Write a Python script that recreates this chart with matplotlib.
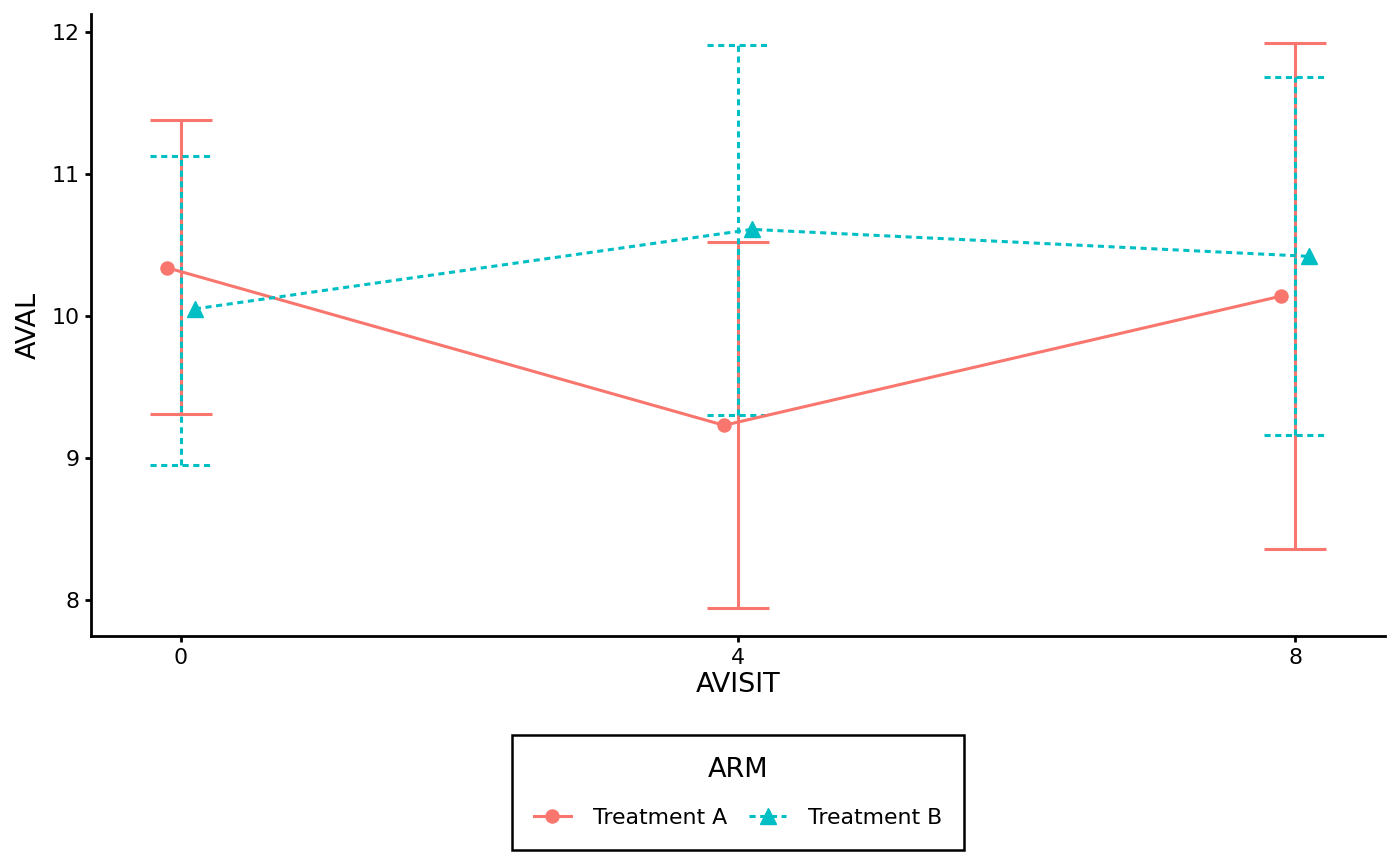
import matplotlib
matplotlib.use("Agg")
import matplotlib.pyplot as plt
import numpy as np
from matplotlib.lines import Line2D

visits = [0, 4, 8]
arms = ["Treatment A", "Treatment B"]
a_mean = [10.34, 9.23, 10.14]
a_lo = [9.31, 7.94, 8.36]
a_hi = [11.38, 10.52, 11.92]
b_mean = [10.05, 10.61, 10.42]
b_lo = [8.95, 9.30, 9.16]
b_hi = [11.13, 11.91, 11.68]

col_a = "#F8766D"
col_b = "#00BFC4"
lw = 2.2
dotted = (0, (2, 1.5))
dodge = 0.1
cap = 0.222

fig = plt.figure(figsize=(14, 8.66), dpi=100)
ax = fig.add_axes([91/1400, 1-636/866, (1385-91)/1400, (636-14)/866])

x = np.array(visits, dtype=float)

# error bars
ax.vlines(x, a_lo, a_hi, color=col_a, lw=lw, zorder=2)
ax.hlines(a_lo, x-cap, x+cap, color=col_a, lw=lw, zorder=2)
ax.hlines(a_hi, x-cap, x+cap, color=col_a, lw=lw, zorder=2)
ax.vlines(x, b_lo, b_hi, color=col_b, lw=lw, linestyles=[dotted], zorder=3)
ax.hlines(b_lo, x-cap, x+cap, color=col_b, lw=lw, linestyles=[dotted], zorder=3)
ax.hlines(b_hi, x-cap, x+cap, color=col_b, lw=lw, linestyles=[dotted], zorder=3)

# lines + points
ax.plot(x-dodge, a_mean, color=col_a, lw=lw, marker="o", ms=9.4, zorder=4)
ax.plot(x+dodge, b_mean, color=col_b, lw=lw, ls=dotted, marker="^", ms=11.5, zorder=5)

ax.set_xlim(-0.646, 8.646)
ax.set_ylim(7.746, 12.127)
ax.set_xticks(visits)
ax.set_xticklabels([str(v) for v in visits])
ax.set_yticks([8, 9, 10, 11, 12])

for s in ["top", "right"]:
    ax.spines[s].set_visible(False)
for s in ["left", "bottom"]:
    ax.spines[s].set_linewidth(2.0)
    ax.spines[s].set_color("black")
ax.tick_params(axis="both", length=4.5, width=2.0, color="black",
               labelsize=15.8, labelcolor="black", pad=4)
ax.set_xlabel("AVISIT", fontsize=19.5, labelpad=3)
ax.set_ylabel("AVAL", fontsize=19.5, labelpad=7)

handles = [
    Line2D([], [], color=col_a, lw=lw, marker="o", ms=9.4),
    Line2D([], [], color=col_b, lw=lw, ls=dotted, marker="^", ms=11.5),
]
leg = fig.legend(handles, arms, title="ARM", loc="center",
                 bbox_to_anchor=(738/1400, 1-792.5/866), ncol=2,
                 fontsize=15.8, title_fontsize=19.5, frameon=True,
                 fancybox=False, edgecolor="black", framealpha=1.0,
                 handlelength=1.7, handletextpad=1.0, columnspacing=1.0,
                 borderpad=1.0, labelspacing=0.8)
leg.get_frame().set_linewidth(1.8)
leg._legend_box.sep = 18

fig.savefig("out.png", dpi=100)
